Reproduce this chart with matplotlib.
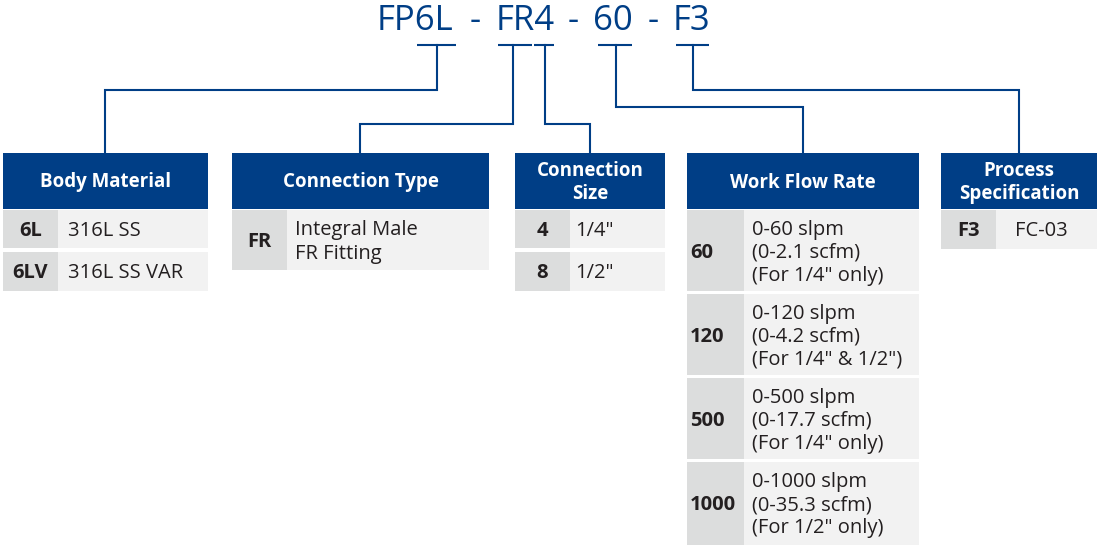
import matplotlib.pyplot as plt
from matplotlib.patches import Rectangle

plt.rcParams['font.family'] = ['Open Sans', 'DejaVu Sans']

# model number pieces and the code part that gets underlined
model_parts = ["FP6L", "FR4", "60", "F3"]

headers = ["Body Material", "Connection Type", "Connection\nSize",
           "Work Flow Rate", "Process\nSpecification"]

body_codes = ["6L", "6LV"]
body_desc = ["316L SS", "316L SS VAR"]

type_codes = ["FR"]
type_desc = ["Integral Male\nFR Fitting"]

size_codes = ["4", "8"]
size_desc = ['1/4"', '1/2"']

flow_codes = ["60", "120", "500", "1000"]
flow_desc = ['0-60 slpm\n(0-2.1 scfm)\n(For 1/4" only)',
             '0-120 slpm\n(0-4.2 scfm)\n(For 1/4" & 1/2")',
             '0-500 slpm\n(0-17.7 scfm)\n(For 1/4" only)',
             '0-1000 slpm\n(0-35.3 scfm)\n(For 1/2" only)']

spec_codes = ["F3"]
spec_desc = ["FC-03"]

BLUE = "#003e86"
CODE_BG = "#dcdddd"
DESC_BG = "#f2f2f2"
TXT = "#231f20"

fig = plt.figure(figsize=(10.97, 5.46), dpi=100)
ax = fig.add_axes([0, 0, 1, 1])
ax.set_xlim(0, 1097)
ax.set_ylim(546, 0)
ax.axis('off')

# title pieces
title_x = [415.5, 525, 612.5, 691.5]
dash_x = [475, 573, 653]
for s, x in zip(model_parts, title_x):
    ax.text(x, 21, s, color=BLUE, fontsize=25, ha='center', va='center')
for x in dash_x:
    ax.text(x, 21, "-", color=BLUE, fontsize=25, ha='center', va='center')

# underline segments (x0, x1, tick x) and routing to the boxes
segments = [(416, 457, 437), (497, 533, 513), (533, 555, 545),
            (597, 633, 616), (675, 710, 693)]
routes = [(90, 105), (124, 360), (124, 590), (107, 803), (90, 1019)]
for (x0, x1, xt), (yh, xb) in zip(segments, routes):
    ax.plot([x0 + 1, x1 - 1], [45, 45], color=BLUE, lw=1.5, solid_capstyle='butt')
    ax.plot([xt, xt, xb, xb], [45, yh, yh, 153], color=BLUE, lw=1.5,
            solid_joinstyle='miter')


def draw_table(x0, xc, x1, header, codes, descs, rows, desc_dx=10,
               code_left=False):
    ax.add_patch(Rectangle((x0, 153), x1 - x0, 56, color=BLUE, lw=0))
    ax.text((x0 + x1) / 2, 182.5, header, color='white', fontsize=13.5,
            fontweight='bold', ha='center', va='center', linespacing=1.15)
    for code, desc, (y0, y1) in zip(codes, descs, rows):
        ax.add_patch(Rectangle((x0, y0), xc - x0, y1 - y0, color=CODE_BG, lw=0))
        ax.add_patch(Rectangle((xc, y0), x1 - xc, y1 - y0, color=DESC_BG, lw=0))
        ym = (y0 + y1) / 2 + 2
        if code_left:
            ax.text(x0 + 3, ym, code, color=TXT, fontsize=14.5,
                    fontweight='bold', ha='left', va='center')
        else:
            ax.text((x0 + xc) / 2, ym, code, color=TXT, fontsize=14.5,
                    fontweight='bold', ha='center', va='center')
        ax.text(xc + desc_dx, ym, desc, color=TXT, fontsize=14.5,
                ha='left', va='center', linespacing=1.2)


draw_table(3, 58, 208, headers[0], body_codes, body_desc,
           [(210, 248), (252, 291)])
draw_table(232, 287, 489, headers[1], type_codes, type_desc,
           [(210, 270)], desc_dx=8)
draw_table(515, 570, 665, headers[2], size_codes, size_desc,
           [(210, 248), (252, 291)], desc_dx=5)
draw_table(687, 744, 919, headers[3], flow_codes, flow_desc,
           [(210, 291), (294, 375), (378, 459), (462, 545)], desc_dx=8,
           code_left=True)
draw_table(941, 996, 1097, headers[4], spec_codes, spec_desc,
           [(210, 249)], desc_dx=19)

fig.savefig("out.png", dpi=100)
